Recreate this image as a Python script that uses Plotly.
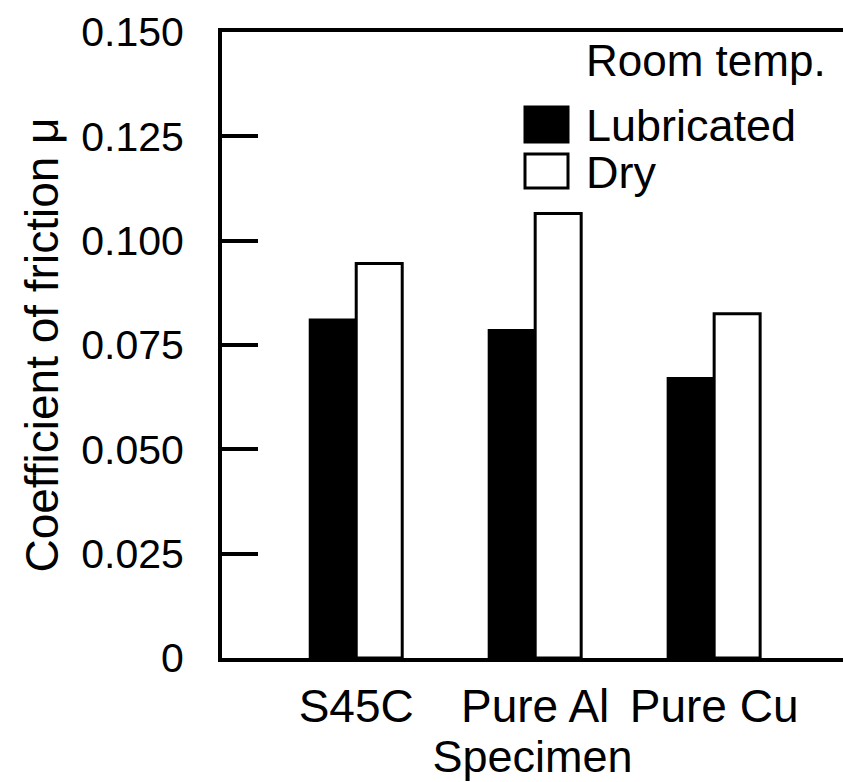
import plotly.graph_objects as go

categories = ["S45C", "Pure Al", "Pure Cu"]
lubricated = [0.081, 0.0785, 0.067]
dry = [0.0945, 0.1065, 0.0825]
series_names = ["Lubricated", "Dry"]
fill_colors = ["black", "white"]
y_ticks = [0, 0.025, 0.050, 0.075, 0.100, 0.125, 0.150]
y_ticklabels = ["0", "0.025", "0.050", "0.075", "0.100", "0.125", "0.150"]
legend_title = "Room temp."
x_title = "Specimen"
y_title = "Coefficient of friction \u03bc"

FONT = "Liberation Sans, Arial, sans-serif"
W, H = 843, 782
ML, MR, MT, MB = 222, 0, 32, 124

fig = go.Figure()
for name, vals, col in zip(series_names, [lubricated, dry], fill_colors):
    fig.add_trace(go.Bar(
        x=categories, y=vals, name=name,
        marker=dict(color=col, line=dict(color="black", width=3)),
        showlegend=False,
    ))

# custom legend (big square symbols)
pw, ph = W - ML - MR, H - MT - MB
def px_x(x):
    return (x - ML) / pw
def px_y(y):
    return (H - MB - y) / ph

legend_rows = [(107, 142), (154, 188)]
shapes = []
annotations = []
for (y0, y1), name, col in zip(legend_rows, series_names, fill_colors):
    shapes.append(dict(type="rect", xref="paper", yref="paper",
                       x0=px_x(525), x1=px_x(568), y0=px_y(y1), y1=px_y(y0),
                       fillcolor=col, line=dict(color="black", width=3)))
    annotations.append(dict(xref="paper", yref="paper", x=px_x(584), y=px_y((y0 + y1) / 2 + 1),
                            text=name, showarrow=False, xanchor="left", yanchor="middle",
                            font=dict(family=FONT, size=45, color="black")))
annotations.append(dict(xref="paper", yref="paper", x=px_x(584), y=px_y(61),
                        text=legend_title, showarrow=False, xanchor="left", yanchor="middle",
                        font=dict(family=FONT, size=44, color="black")))

fig.update_layout(
    width=W, height=H,
    margin=dict(l=ML, r=MR, t=MT, b=MB, pad=0),
    paper_bgcolor="white", plot_bgcolor="white",
    barmode="group", bargap=0.486, bargroupgap=0,
    font=dict(family=FONT, color="black"),
    shapes=shapes, annotations=annotations,
    xaxis=dict(
        range=[-0.75, 2.72], showline=True, linecolor="black", linewidth=4,
        mirror=True, ticks="", showgrid=False, zeroline=False,
        tickfont=dict(family=FONT, size=46, color="black"),
        ticklabelstandoff=5,
        title=dict(text=x_title, font=dict(family=FONT, size=45, color="black"), standoff=9),
    ),
    yaxis=dict(
        range=[0, 0.150], showline=True, linecolor="black", linewidth=4,
        mirror=False, ticks="inside", ticklen=36, tickwidth=4, tickcolor="black",
        tickvals=y_ticks, ticktext=y_ticklabels, showgrid=False, zeroline=False,
        tickfont=dict(family=FONT, size=41, color="black"),
        ticklabelstandoff=26,
        title=dict(text=y_title, font=dict(family=FONT, size=46, color="black"), standoff=9),
    ),
)

fig.write_html("out.html")
